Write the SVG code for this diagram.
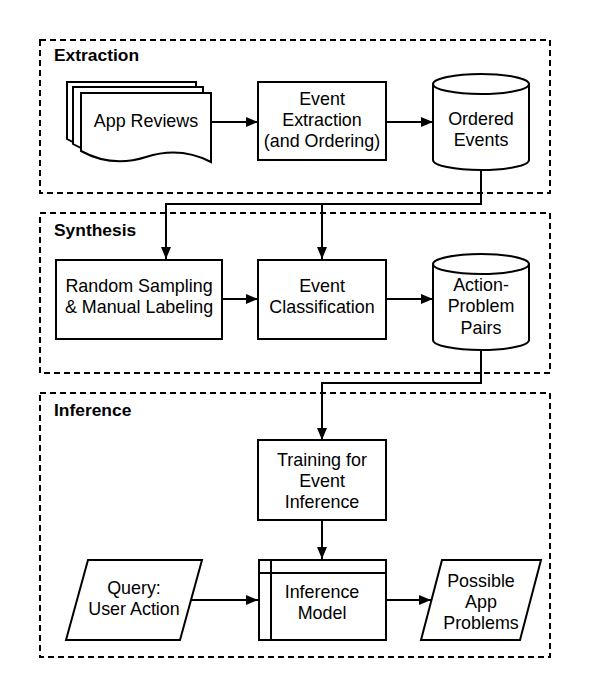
<svg xmlns="http://www.w3.org/2000/svg" width="590" height="698" viewBox="0 0 590 698">
<defs>
<marker id="ah" viewBox="0 0 12 10" refX="12" refY="5" markerWidth="12" markerHeight="10" markerUnits="userSpaceOnUse" orient="auto">
<path d="M0,0 L12,5 L0,10 Z" fill="#000"/>
</marker>
<style>
.grp{fill:none;stroke:#000;stroke-width:2;stroke-dasharray:6 4}
.n{fill:#fff;stroke:#000;stroke-width:2}
.ln{fill:none;stroke:#000;stroke-width:2}
.c{fill:none;stroke:#000;stroke-width:2;marker-end:url(#ah)}
text{font-family:"Liberation Sans",Arial,sans-serif;font-size:17.9px;fill:#000}
.t{text-anchor:middle}
.h{font-weight:bold;font-size:17.4px}
</style>
</defs>
<rect width="590" height="698" fill="#fff"/>
<g id="extraction-group">
<rect class="grp" x="40" y="40" width="510" height="153"/>
<text class="h" x="54" y="61">Extraction</text>
</g>
<g id="synthesis-group">
<rect class="grp" x="40" y="213" width="510" height="160"/>
<text class="h" x="54" y="236">Synthesis</text>
</g>
<g id="inference-group">
<rect class="grp" x="40" y="393" width="510" height="264"/>
<text class="h" x="54" y="416">Inference</text>
</g>
<g id="connectors">
<path class="c" d="M211,122 H258"/>
<path class="c" d="M386,122 H433"/>
<path class="c" d="M481,170 V204 H166 V259"/>
<path class="c" d="M322,204 V259"/>
<path class="c" d="M222,299 H258"/>
<path class="c" d="M386,299 H433"/>
<path class="c" d="M481,350 V383 H322 V440"/>
<path class="c" d="M322,520 V559"/>
<path class="c" d="M191,600 H258"/>
<path class="c" d="M386,600 H431"/>
</g>
<g id="app-reviews">
<path class="n" d="M67,82 H196 V151 Q165,135 131,146 Q97,157 67,139 Z"/>
<path class="n" d="M73,87 H203 V156 Q172,140 138,151 Q104,162 73,144 Z"/>
<path class="n" d="M81,93 H211 V162 Q180,146 146,157 Q112,168 81,151 Z"/>
<text class="t" x="146" y="127">App Reviews</text>
</g>
<g id="event-extraction">
<rect class="n" x="258" y="82" width="128" height="78"/>
<text class="t" x="322" y="105">Event</text>
<text class="t" x="322" y="126">Extraction</text>
<text class="t" x="322" y="147">(and Ordering)</text>
</g>
<g id="ordered-events">
<path class="n" d="M433,84 A48,10 0 0,1 529,84 V160 A48,10 0 0,1 433,160 Z"/>
<path class="ln" d="M433,84 A48,10 0 0,0 529,84"/>
<text class="t" x="481" y="125">Ordered</text>
<text class="t" x="481" y="146">Events</text>
</g>
<g id="random-sampling">
<rect class="n" x="56" y="260" width="166" height="79"/>
<text class="t" x="139" y="292">Random Sampling</text>
<text class="t" x="139" y="313">&amp; Manual Labeling</text>
</g>
<g id="event-classification">
<rect class="n" x="258" y="260" width="128" height="79"/>
<text class="t" x="322" y="292">Event</text>
<text class="t" x="322" y="313">Classification</text>
</g>
<g id="action-problem-pairs">
<path class="n" d="M433,264 A48,10 0 0,1 529,264 V340 A48,10 0 0,1 433,340 Z"/>
<path class="ln" d="M433,264 A48,10 0 0,0 529,264"/>
<text class="t" x="481" y="291">Action-</text>
<text class="t" x="481" y="312">Problem</text>
<text class="t" x="481" y="334">Pairs</text>
</g>
<g id="training">
<rect class="n" x="258" y="440" width="128" height="80"/>
<text class="t" x="322" y="466">Training for</text>
<text class="t" x="322" y="487">Event</text>
<text class="t" x="322" y="508">Inference</text>
</g>
<g id="query">
<path class="n" d="M88,560 H202 L180,640 H66 Z"/>
<text class="t" x="134" y="594">Query:</text>
<text class="t" x="134" y="615">User Action</text>
</g>
<g id="inference-model">
<rect class="n" x="259" y="560" width="127" height="80"/>
<path class="ln" d="M271,560 V640 M259,573 H386"/>
<text class="t" x="322" y="598">Inference</text>
<text class="t" x="322" y="619">Model</text>
</g>
<g id="possible-app-problems">
<path class="n" d="M442,560 H541 L520,640 H421 Z"/>
<text class="t" x="481" y="587">Possible</text>
<text class="t" x="481" y="608">App</text>
<text class="t" x="481" y="629">Problems</text>
</g>
</svg>
